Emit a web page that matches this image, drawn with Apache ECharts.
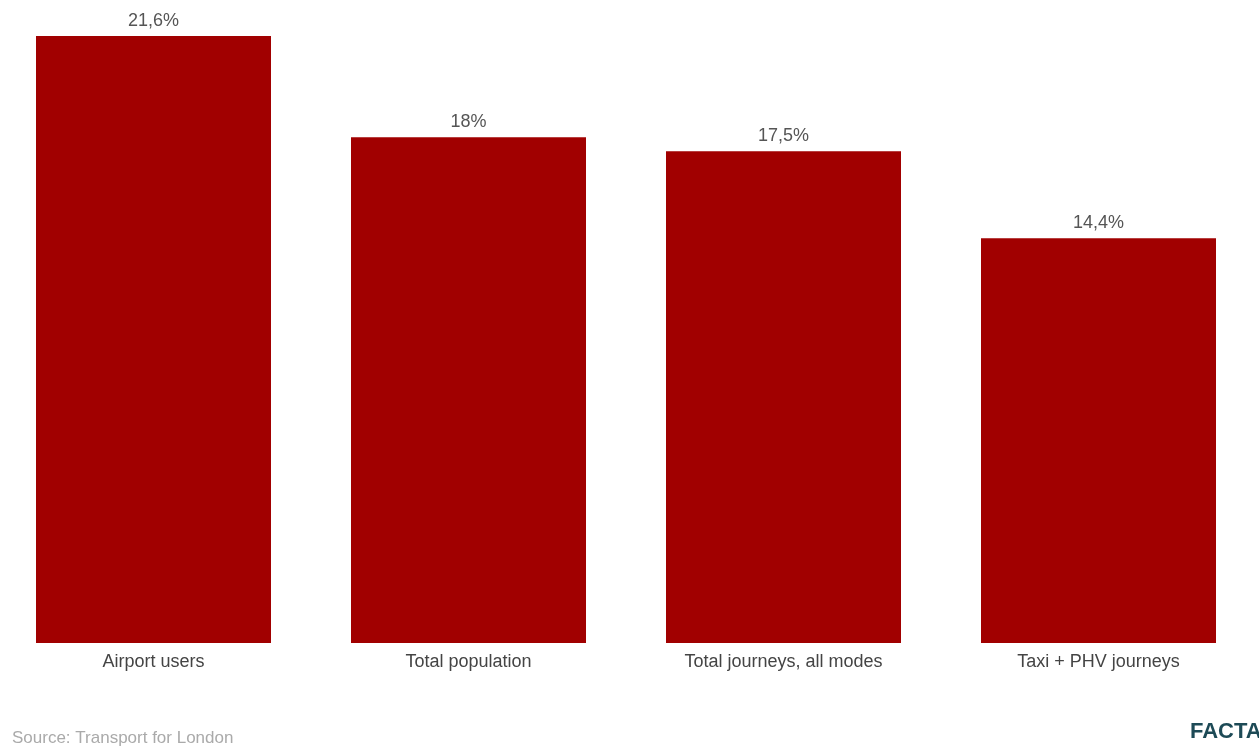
<!DOCTYPE html>
<html>
<head>
<meta charset="utf-8">
<script src="https://cdn.jsdelivr.net/npm/echarts@6/dist/echarts.min.js"></script>
<style>
html,body{margin:0;padding:0;background:#fff;overflow:hidden;}
#chart{width:1263px;height:752px;margin-left:-4px;}
</style>
</head>
<body>
<div id="chart"></div>
<script>
const categories = ['Airport users', 'Total population', 'Total journeys, all modes', 'Taxi + PHV journeys'];
const values = [21.6, 18, 17.5, 14.4];
const sourceText = 'Source: Transport for London';
const logoText = 'FACTA';

const chart = echarts.init(document.getElementById('chart'), null, {renderer: 'canvas'});
chart.setOption({
  backgroundColor: '#ffffff',
  animation: false,
  grid: {left: 0, right: 3, top: 36, bottom: 109, containLabel: false},
  xAxis: {
    type: 'category',
    data: categories,
    axisLine: {show: false},
    axisTick: {show: false},
    axisLabel: {color: '#444', fontSize: 18, fontFamily: 'Liberation Sans, Arial, sans-serif', margin: 10}
  },
  yAxis: {
    type: 'value',
    min: 0,
    max: 21.6,
    show: false,
    splitLine: {show: false}
  },
  series: [{
    type: 'bar',
    data: values,
    barWidth: 235,
    itemStyle: {color: '#a10000'},
    label: {
      show: true,
      position: 'top',
      distance: 6,
      color: '#555',
      fontSize: 18,
      fontFamily: 'Liberation Sans, Arial, sans-serif',
      formatter: p => String(p.value).replace('.', ',') + '%'
    }
  }],
  graphic: [
    {type: 'text', left: 16, top: 730, style: {text: sourceText, fill: '#aaa', fontSize: 17, fontFamily: 'Liberation Sans, Arial, sans-serif'}},
    {type: 'text', left: 1194, top: 721, style: {text: logoText, fill: '#1d4a56', fontSize: 22, fontWeight: 'bold', fontFamily: 'Liberation Sans Narrow, Liberation Sans, Arial, sans-serif'}}
  ]
});
</script>
</body>
</html>
